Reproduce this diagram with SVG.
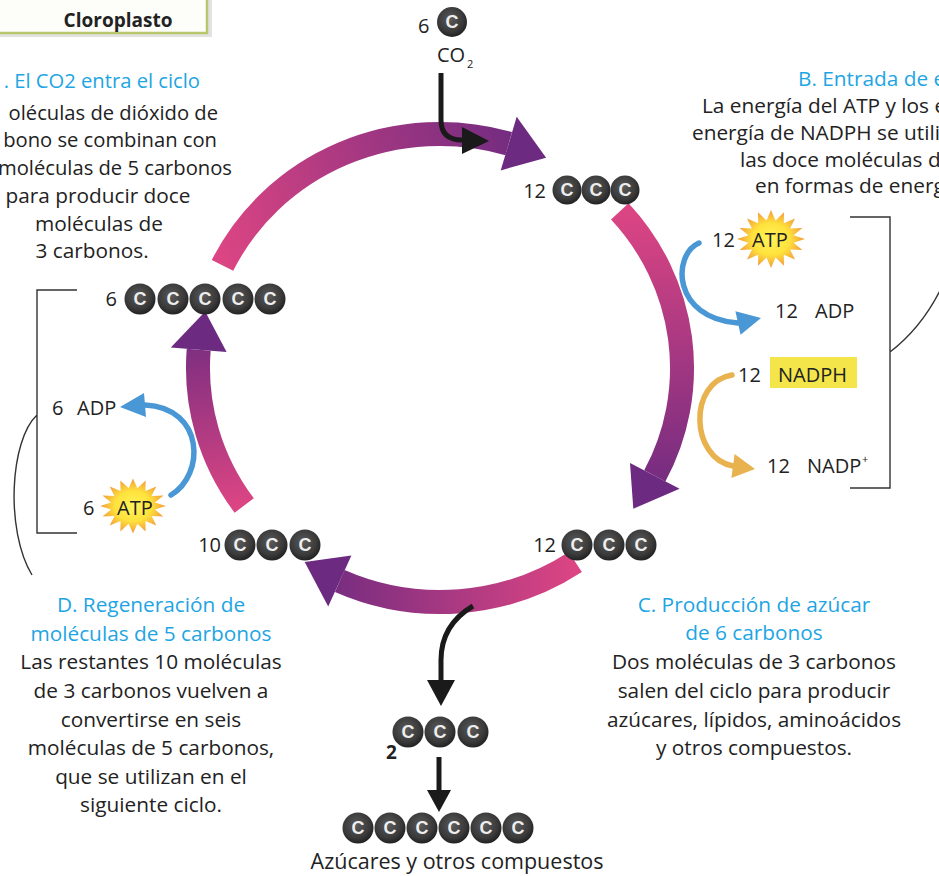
<svg xmlns="http://www.w3.org/2000/svg" width="939" height="876" viewBox="0 0 939 876">
<defs>
<style>
text{font-family:"Open Sans","Noto Sans",sans-serif;fill:#222}
.b{font-size:20.8px}
.h{font-size:20.8px;fill:#1ea5e3}
.cut{font-size:20.2px}
.lab{font-size:20px}
.cb{font-size:18px;font-weight:bold;fill:#eee;text-anchor:middle;font-family:"Liberation Sans",Arial,sans-serif}
.ball{fill:url(#ballg)}
.mid{text-anchor:middle}
.end{text-anchor:end}
.arc{fill:none;stroke-width:24}
.head{fill:#6c2a80}
.blk{fill:none;stroke:#1a1a1a;stroke-width:5}
.blkh{fill:#1a1a1a}
.blue{fill:none;stroke:#4a97d6;stroke-width:5.5;stroke-linecap:round}
.blueh{fill:#4a97d6}
.yel{fill:none;stroke:#e8b24e;stroke-width:5.5;stroke-linecap:round}
.yelh{fill:#e8b24e}
.brk{fill:none;stroke:#333;stroke-width:1.4}
</style>
<radialGradient id="ballg" cx="45%" cy="40%" r="60%">
<stop offset="0" stop-color="#5a5a5a"/><stop offset="0.7" stop-color="#3a3a3a"/><stop offset="1" stop-color="#222"/>
</radialGradient>
<radialGradient id="starg" cx="50%" cy="50%" r="50%">
<stop offset="0" stop-color="#fff45a"/><stop offset="0.55" stop-color="#ffe23c"/><stop offset="1" stop-color="#f29a3c"/>
</radialGradient>
<linearGradient id="gT" gradientUnits="userSpaceOnUse" x1="222" y1="265" x2="546" y2="158"><stop offset="0" stop-color="#dc4583"/><stop offset="1" stop-color="#6c2a80"/></linearGradient>
<linearGradient id="gR" gradientUnits="userSpaceOnUse" x1="620" y1="211" x2="633" y2="509"><stop offset="0" stop-color="#dc4583"/><stop offset="1" stop-color="#6c2a80"/></linearGradient>
<linearGradient id="gB" gradientUnits="userSpaceOnUse" x1="575" y1="562" x2="305" y2="562"><stop offset="0" stop-color="#dc4583"/><stop offset="1" stop-color="#6c2a80"/></linearGradient>
<linearGradient id="gL" gradientUnits="userSpaceOnUse" x1="244" y1="505" x2="205" y2="311"><stop offset="0" stop-color="#dc4583"/><stop offset="1" stop-color="#6c2a80"/></linearGradient>
<polygon id="star" fill="url(#starg)" points="34,0 22.6,3.7 31.4,11.1 19.1,10.6 24,20.5 12.8,15.8 13,26.8 4.5,18.6 0,29 -4.5,18.6 -13,26.8 -12.8,15.8 -24,20.5 -19.1,10.6 -31.4,11.1 -22.6,3.7 -34,0 -22.6,-3.7 -31.4,-11.1 -19.1,-10.6 -24,-20.5 -12.8,-15.8 -13,-26.8 -4.5,-18.6 0,-29 4.5,-18.6 13,-26.8 12.8,-15.8 24,-20.5 19.1,-10.6 31.4,-11.1 22.6,-3.7"/>
</defs>
<rect width="939" height="876" fill="#fff"/>

<g id="cloroplasto">
<rect x="-10" y="-10" width="222" height="47" fill="#e2e2e2"/>
<rect x="-10" y="-10" width="217" height="43" fill="#fdfdf9" stroke="#b9c66b" stroke-width="2.5"/>
<text x="118" y="27" class="mid" style="font-size:19px;font-weight:bold">Cloroplasto</text>
</g>

<g id="cycle">
<path class="arc" stroke="url(#gT)" d="M222.5,265.4 A242,234 0 0,1 508.7,143.6"/>
<polygon class="head" points="516.7,116.8 546.1,157.7 500.7,170.4"/>
<path class="arc" stroke="url(#gR)" d="M619.8,211.4 A242,234 0 0,1 654.8,475.9"/>
<polygon class="head" points="679.6,488.8 633.3,508.8 630,463"/>
<path class="arc" stroke="url(#gB)" d="M575.3,562 A242,234 0 0,1 339.8,581"/>
<polygon class="head" points="328.2,606.5 304.7,562 351.4,555.5"/>
<path class="arc" stroke="url(#gL)" d="M244.2,505.5 A242,234 0 0,1 198.7,349.8"/>
<polygon class="head" points="170.8,347.6 205.2,311.4 226.6,352"/>
</g>

<g id="connectors">
<path class="blk" d="M441,73 V120 Q441,140 462,140"/>
<polygon class="blkh" points="462,127 489,141 462,154"/>
<path class="blk" d="M473,606 Q441,625 441,660 V682"/>
<polygon class="blkh" points="427,680 455,680 441,706"/>
<path class="blk" d="M439,757 V792"/>
<polygon class="blkh" points="427,790 451,790 439,812"/>
<path class="blue" d="M699,243 C672,255 672,318 738,323"/>
<polygon class="blueh" points="735.4,311.3 761,318 740.6,334.7"/>
<path class="yel" d="M732,375 C688,382 690,458 733,466"/>
<polygon class="yelh" points="734.6,454 755,469 731.4,478"/>
<path class="blue" d="M171,495 C205,475 205,408 145,405"/>
<polygon class="blueh" points="146,417 120,407 144,393"/>
<path class="brk" d="M850,217 H890 V488 H850 M890,352 Q925,325 945,280"/>
<path class="brk" d="M77,290 H37 V533 H77 M37,415 C10,440 5,530 32,575"/>
</g>

<g id="co2">
<text x="418" y="33" class="lab">6</text>
<circle class="ball" cx="452" cy="22" r="15"/><text class="cb" x="452" y="28">C</text>
<text x="437" y="62" class="lab">CO</text><text x="467" y="68" style="font-size:11px">2</text>
</g>

<g id="m12top">
<text x="546" y="198" class="lab end">12</text>
<circle class="ball" cx="567" cy="190" r="14.5"/><text class="cb" x="567" y="196">C</text>
<circle class="ball" cx="596" cy="190" r="14.5"/><text class="cb" x="596" y="196">C</text>
<circle class="ball" cx="625" cy="190" r="14.5"/><text class="cb" x="625" y="196">C</text>
</g>

<g id="m12bot">
<text x="556" y="552" class="lab end">12</text>
<circle class="ball" cx="577" cy="545" r="15.5"/><text class="cb" x="577" y="551">C</text>
<circle class="ball" cx="609" cy="545" r="15.5"/><text class="cb" x="609" y="551">C</text>
<circle class="ball" cx="641" cy="545" r="15.5"/><text class="cb" x="641" y="551">C</text>
</g>

<g id="m10">
<text x="221" y="552" class="lab end">10</text>
<circle class="ball" cx="240" cy="545" r="15.5"/><text class="cb" x="240" y="551">C</text>
<circle class="ball" cx="272" cy="545" r="15.5"/><text class="cb" x="272" y="551">C</text>
<circle class="ball" cx="305" cy="545" r="15.5"/><text class="cb" x="305" y="551">C</text>
</g>

<g id="m6c5">
<text x="117" y="306" class="lab end">6</text>
<circle class="ball" cx="140" cy="299" r="15.5"/><text class="cb" x="140" y="305">C</text>
<circle class="ball" cx="173" cy="299" r="15.5"/><text class="cb" x="173" y="305">C</text>
<circle class="ball" cx="205" cy="299" r="15.5"/><text class="cb" x="205" y="305">C</text>
<circle class="ball" cx="238" cy="299" r="15.5"/><text class="cb" x="238" y="305">C</text>
<circle class="ball" cx="270" cy="299" r="15.5"/><text class="cb" x="270" y="305">C</text>
</g>

<g id="m2">
<circle class="ball" cx="408" cy="732" r="15.5"/><text class="cb" x="408" y="738">C</text>
<circle class="ball" cx="440" cy="732" r="15.5"/><text class="cb" x="440" y="738">C</text>
<circle class="ball" cx="473" cy="732" r="15.5"/><text class="cb" x="473" y="738">C</text>
<text x="386" y="759" style="font-size:19px;font-weight:bold">2</text>
</g>

<g id="sugar">
<circle class="ball" cx="358" cy="828" r="15.5"/><text class="cb" x="358" y="834">C</text>
<circle class="ball" cx="390" cy="828" r="15.5"/><text class="cb" x="390" y="834">C</text>
<circle class="ball" cx="422" cy="828" r="15.5"/><text class="cb" x="422" y="834">C</text>
<circle class="ball" cx="454" cy="828" r="15.5"/><text class="cb" x="454" y="834">C</text>
<circle class="ball" cx="486" cy="828" r="15.5"/><text class="cb" x="486" y="834">C</text>
<circle class="ball" cx="518" cy="828" r="15.5"/><text class="cb" x="518" y="834">C</text>
<text x="457" y="869" class="mid" style="font-size:21.5px">Azúcares y otros compuestos</text>
</g>

<g id="atp12">
<text x="712" y="247" class="lab">12</text>
<use href="#star" transform="translate(771,239)"/>
<text x="752" y="247" class="lab">ATP</text>
</g>
<g id="adp12">
<text x="775" y="318" class="lab">12</text><text x="815" y="318" class="lab">ADP</text>
</g>
<g id="nadph12">
<text x="738" y="382" class="lab">12</text>
<rect x="770" y="357" width="87" height="31" fill="#f4e64a"/>
<text x="778" y="382" class="lab">NADPH</text>
</g>
<g id="nadp12">
<text x="767" y="473" class="lab">12</text><text x="807" y="473" class="lab">NADP</text><text x="862" y="463" style="font-size:11px">+</text>
</g>
<g id="adp6">
<text x="52" y="415" class="lab">6</text><text x="77" y="415" class="lab">ADP</text>
</g>
<g id="atp6">
<text x="83" y="515" class="lab">6</text>
<use href="#star" transform="translate(133,506) scale(0.97,0.95)"/>
<text x="117" y="515" class="lab">ATP</text>
</g>

<g id="textA">
<text x="200" y="88" class="h cut end">. El CO2 entra el ciclo</text>
<text x="218" y="120" class="b cut end">oléculas de dióxido de</text>
<text x="217" y="147" class="b cut end">bono se combinan con</text>
<text x="232" y="175" class="b cut end">moléculas de 5 carbonos</text>
<text x="98" y="203" class="b mid">para producir doce</text>
<text x="99" y="231" class="b mid">moléculas de</text>
<text x="92" y="258" class="b mid">3 carbonos.</text>
</g>

<g id="textB">
<text x="798" y="86" class="h">B. Entrada de e</text>
<text x="702" y="113" class="b">La energía del ATP y los e</text>
<text x="692" y="140" class="b">energía de NADPH se utili</text>
<text x="740" y="167" class="b">las doce moléculas d</text>
<text x="755" y="193" class="b">en formas de energ</text>
</g>

<g id="textC">
<text x="754" y="612" class="h mid">C. Producción de azúcar</text>
<text x="754" y="640" class="h mid">de 6 carbonos</text>
<text x="754" y="669" class="b mid">Dos moléculas de 3 carbonos</text>
<text x="754" y="698" class="b mid">salen del ciclo para producir</text>
<text x="754" y="727" class="b mid">azúcares, lípidos, aminoácidos</text>
<text x="754" y="755" class="b mid">y otros compuestos.</text>
</g>

<g id="textD">
<text x="151" y="612" class="h mid">D. Regeneración de</text>
<text x="151" y="641" class="h mid">moléculas de 5 carbonos</text>
<text x="151" y="669" class="b mid">Las restantes 10 moléculas</text>
<text x="151" y="698" class="b mid">de 3 carbonos vuelven a</text>
<text x="151" y="727" class="b mid">convertirse en seis</text>
<text x="151" y="755" class="b mid">moléculas de 5 carbonos,</text>
<text x="151" y="784" class="b mid">que se utilizan en el</text>
<text x="151" y="812" class="b mid">siguiente ciclo.</text>
</g>
</svg>
